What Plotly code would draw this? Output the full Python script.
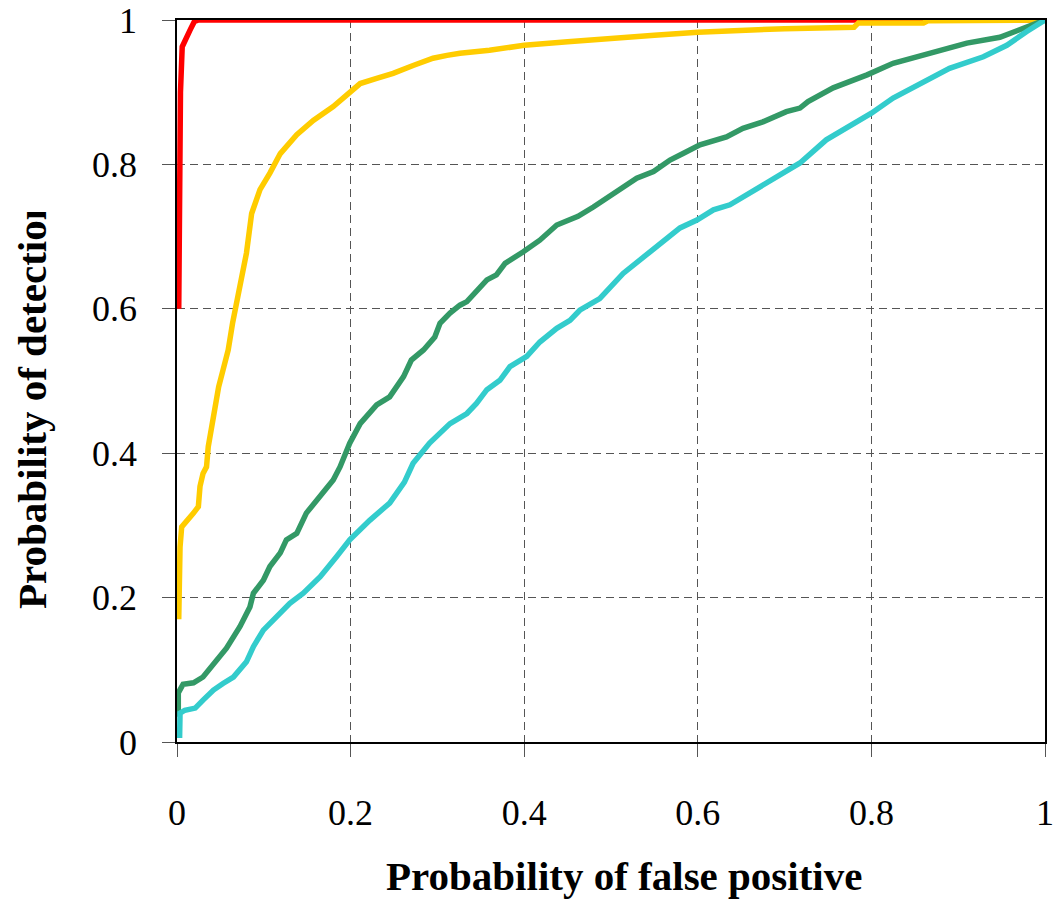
import plotly.graph_objects as go

# ---- data ----
red_fpr = [0.002, 0.003, 0.004, 0.006, 0.010, 0.015, 0.020, 0.025, 1.0]
red_tpr = [0.600, 0.750, 0.900, 0.963, 0.975, 0.986, 0.998, 1.0, 1.0]

yel_fpr = [0.002, 0.0027, 0.0035, 0.0054, 0.011, 0.019, 0.0246, 0.0265, 0.030, 0.034,
           0.036, 0.040, 0.044, 0.048, 0.053, 0.059, 0.064, 0.0688, 0.0745, 0.080,
           0.086, 0.0956, 0.107, 0.119, 0.138, 0.157, 0.180, 0.199, 0.211, 0.230,
           0.249, 0.272, 0.295, 0.311, 0.326, 0.36, 0.40, 0.45, 0.50, 0.55,
           0.60, 0.65, 0.70, 0.78, 0.785, 0.86, 0.865, 1.0]
yel_tpr = [0.17, 0.224, 0.27, 0.298, 0.305, 0.317, 0.326, 0.354, 0.372, 0.381,
           0.409, 0.437, 0.455, 0.492, 0.515, 0.543, 0.580, 0.612, 0.640, 0.677,
           0.732, 0.765, 0.788, 0.815, 0.841, 0.861, 0.880, 0.900, 0.912, 0.919,
           0.926, 0.937, 0.947, 0.951, 0.954, 0.958, 0.965, 0.970, 0.975, 0.979,
           0.983, 0.986, 0.988, 0.990, 0.996, 0.996, 0.999, 1.0]

grn_fpr = [0.0015, 0.0015, 0.007, 0.019, 0.030, 0.042, 0.057, 0.0726, 0.084, 0.088,
           0.0995, 0.107, 0.119, 0.126, 0.138, 0.149, 0.165, 0.180, 0.1878, 0.199,
           0.211, 0.230, 0.245, 0.261, 0.270, 0.284, 0.297, 0.303, 0.3145, 0.326,
           0.334, 0.345, 0.357, 0.368, 0.378, 0.399, 0.418, 0.4375, 0.4528, 0.462,
           0.4797, 0.510, 0.5296, 0.549, 0.568, 0.583, 0.6025, 0.633, 0.652, 0.675,
           0.702, 0.7177, 0.727, 0.756, 0.795, 0.825, 0.871, 0.910, 0.948, 0.971, 1.0]
grn_tpr = [0.035, 0.068, 0.080, 0.082, 0.090, 0.107, 0.130, 0.160, 0.187, 0.206,
           0.224, 0.243, 0.262, 0.280, 0.289, 0.317, 0.340, 0.363, 0.381, 0.414,
           0.441, 0.467, 0.478, 0.506, 0.529, 0.543, 0.561, 0.580, 0.594, 0.605,
           0.610, 0.624, 0.640, 0.647, 0.663, 0.679, 0.695, 0.716, 0.723, 0.728,
           0.741, 0.765, 0.781, 0.790, 0.806, 0.815, 0.827, 0.838, 0.850, 0.859,
           0.873, 0.878, 0.887, 0.906, 0.924, 0.940, 0.956, 0.968, 0.976, 0.986, 1.0]

cyn_fpr = [0.003, 0.0035, 0.009, 0.021, 0.030, 0.042, 0.053, 0.065, 0.080, 0.088,
           0.0995, 0.115, 0.130, 0.1455, 0.165, 0.184, 0.199, 0.222, 0.245, 0.262,
           0.272, 0.291, 0.3145, 0.334, 0.345, 0.357, 0.372, 0.3836, 0.403, 0.418,
           0.4375, 0.4528, 0.464, 0.487, 0.514, 0.541, 0.568, 0.5795, 0.599, 0.618,
           0.637, 0.660, 0.683, 0.706, 0.7177, 0.748, 0.779, 0.80, 0.825, 0.856,
           0.890, 0.929, 0.956, 0.979, 1.0]
cyn_tpr = [0.0055, 0.040, 0.044, 0.047, 0.058, 0.072, 0.081, 0.090, 0.111, 0.132,
           0.155, 0.174, 0.192, 0.206, 0.229, 0.257, 0.280, 0.307, 0.331, 0.360,
           0.386, 0.414, 0.441, 0.455, 0.469, 0.488, 0.501, 0.520, 0.534, 0.554,
           0.573, 0.584, 0.598, 0.614, 0.649, 0.675, 0.700, 0.712, 0.723, 0.737,
           0.744, 0.760, 0.776, 0.792, 0.802, 0.834, 0.857, 0.871, 0.892, 0.912,
           0.933, 0.949, 0.965, 0.984, 1.0]

tick_vals = [0, 0.2, 0.4, 0.6, 0.8, 1]
tick_text = ["0", "0.2", "0.4", "0.6", "0.8", "1"]
x_title = "Probability of false positive"
y_title = "Probability of detection"

# ---- figure ----
W, H = 1053, 902
ML, MR, MT, MB = 177, 8, 20, 160
PW, PH = W - ML - MR, H - MT - MB

FONT = "Liberation Serif, Times New Roman, serif"

fig = go.Figure()
series = [
    (red_fpr, red_tpr, "#FF0000"),
    (yel_fpr, yel_tpr, "#FFCC00"),
    (grn_fpr, grn_tpr, "#339966"),
    (cyn_fpr, cyn_tpr, "#33CCCC"),
]
for xs, ys, col in series:
    fig.add_trace(go.Scatter(x=xs, y=ys, mode="lines",
                             line=dict(color=col, width=5.5),
                             showlegend=False, hoverinfo="skip"))

axis_common = dict(
    range=[0, 1], tickvals=tick_vals, ticktext=tick_text, automargin=False,
    ticklabeloverflow="allow",
    showgrid=True, gridcolor="#555555", gridwidth=1, griddash="8px,5px",
    zeroline=False, showline=True, linecolor="black", linewidth=1.5,
    mirror=True, ticks="outside", ticklen=13, tickwidth=1, tickcolor="#555555",
    tickfont=dict(family=FONT, size=36, color="black"),
)

fig.update_layout(
    width=W, height=H,
    margin=dict(l=ML, r=MR, t=MT, b=MB, pad=0, autoexpand=False),
    paper_bgcolor="white", plot_bgcolor="white",
    xaxis=dict(**axis_common, ticklabelstandoff=25),
    yaxis=dict(**axis_common, ticklabelstandoff=18),
    showlegend=False,
)

def px_to_paper_x(px):
    return (px - ML) / PW

def px_to_paper_y(py):
    return (H - MB - py) / PH

fig.add_annotation(text="<b>" + x_title + "</b>", xref="paper", yref="paper",
                   x=px_to_paper_x(624), y=px_to_paper_y(876),
                   xanchor="center", yanchor="middle", showarrow=False,
                   font=dict(family=FONT, size=41, color="black"))
fig.add_annotation(text="<b>" + y_title + "</b>", xref="paper", yref="paper",
                   x=px_to_paper_x(32), y=px_to_paper_y(403), textangle=-90,
                   xanchor="center", yanchor="middle", showarrow=False,
                   font=dict(family=FONT, size=41, color="black"))
# white mask reproducing the clipped end of the y-axis title
fig.add_annotation(text=" ", xref="paper", yref="paper",
                   x=px_to_paper_x(5), y=px_to_paper_y(212),
                   xanchor="left", yanchor="bottom", showarrow=False,
                   width=60, height=210, bgcolor="white", borderpad=0, borderwidth=0,
                   font=dict(size=10))

fig.write_html("out.html")
